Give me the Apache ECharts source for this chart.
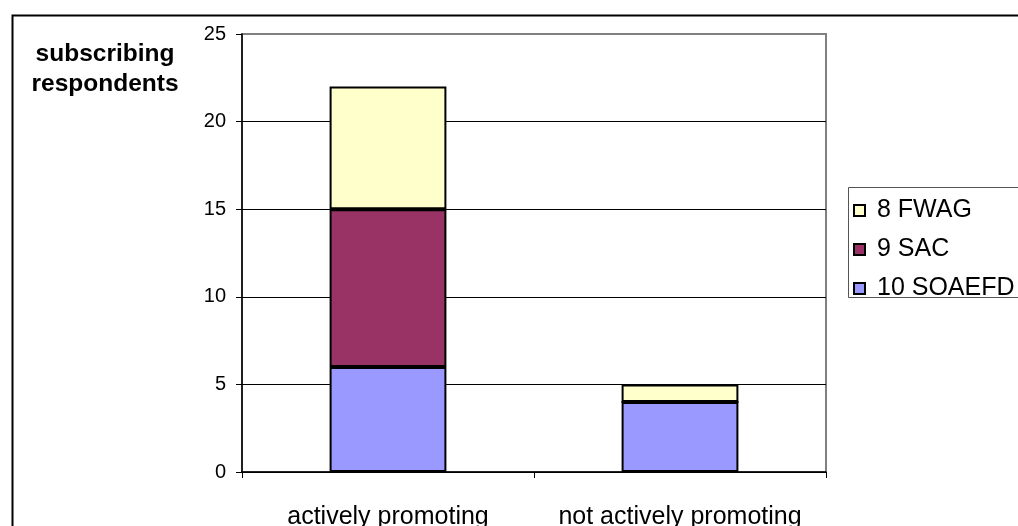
<!DOCTYPE html>
<html>
<head>
<meta charset="utf-8">
<script src="https://cdn.jsdelivr.net/npm/echarts@6/dist/echarts.min.js"></script>
<style>
  html, body { margin: 0; padding: 0; background: #fff; }
  #chart { width: 1018px; height: 526px; }
</style>
</head>
<body>
<div id="chart"></div>
<script>
// Subscribing respondents by promotion status, stacked by organisation
const categories = ['actively promoting', 'not actively promoting'];
const soaefd = [6, 4];
const sac = [9, 0];
const fwag = [7, 1];
const yTicks = [0, 5, 10, 15, 20, 25];

const FONT = '"Liberation Sans", Arial, sans-serif';
const chart = echarts.init(document.getElementById('chart'));

const barStyle = (color) => ({
  color: color,
  borderColor: '#000',
  borderWidth: 2
});

chart.setOption({
  animation: false,
  backgroundColor: '#fff',
  textStyle: { fontFamily: FONT },
  graphic: [
    {
      // outer chart frame
      type: 'rect',
      left: 10, top: 13,
      shape: { width: 1100, height: 600 },
      style: { fill: 'none', stroke: '#000', lineWidth: 2 },
      silent: true
    },
    {
      // legend box
      type: 'rect',
      left: 846, top: 185,
      shape: { width: 300, height: 110 },
      style: { fill: 'none', stroke: '#555', lineWidth: 1 },
      silent: true
    }
  ],
  title: {
    text: 'subscribing\nrespondents',
    left: 100,
    top: 34,
    textAlign: 'center',
    textStyle: { fontFamily: FONT, fontSize: 24.5, fontWeight: 'bold', color: '#000', lineHeight: 30 }
  },
  legend: {
    orient: 'vertical',
    left: 847,
    top: 186,
    data: ['8 FWAG', '9 SAC', '10 SOAEFD'],
    itemWidth: 11,
    itemHeight: 11,
    itemGap: 14,
    padding: [12, 60, 0, 6],
    borderWidth: 0,
    icon: 'rect',
    textStyle: { fontFamily: FONT, fontSize: 25, color: '#000', padding: [0, 0, 0, 7] }
  },
  grid: {
    left: 242, top: 34, right: 192, bottom: 54,
    containLabel: false,
    outerBoundsMode: 'none',
    show: true,
    borderColor: '#808080',
    borderWidth: 2
  },
  xAxis: {
    type: 'category',
    data: categories,
    boundaryGap: true,
    axisLine: { lineStyle: { color: '#000', width: 1.5 } },
    axisTick: { show: true, alignWithLabel: false, length: 6, lineStyle: { color: '#000' } },
    axisLabel: { color: '#000', fontSize: 25, fontFamily: FONT, margin: 33, interval: 0 }
  },
  yAxis: {
    type: 'value',
    min: yTicks[0],
    max: yTicks[yTicks.length - 1],
    interval: 5,
    axisLine: { show: true, lineStyle: { color: '#000', width: 1.5 } },
    axisTick: { show: true, length: 6, lineStyle: { color: '#000' } },
    axisLabel: { color: '#000', fontSize: 20, fontFamily: FONT, margin: 16 },
    splitLine: { show: true, lineStyle: { color: ['#000', '#000', '#000', '#000', '#000', '#808080'], width: 1 } }
  },
  series: [
    { name: '10 SOAEFD', type: 'bar', stack: 'total', barWidth: '40%', data: soaefd, itemStyle: barStyle('#9999FF') },
    { name: '9 SAC', type: 'bar', stack: 'total', barWidth: '40%', data: sac, itemStyle: barStyle('#993366') },
    { name: '8 FWAG', type: 'bar', stack: 'total', barWidth: '40%', data: fwag, itemStyle: barStyle('#FFFFCC') }
  ]
});
</script>
</body>
</html>
